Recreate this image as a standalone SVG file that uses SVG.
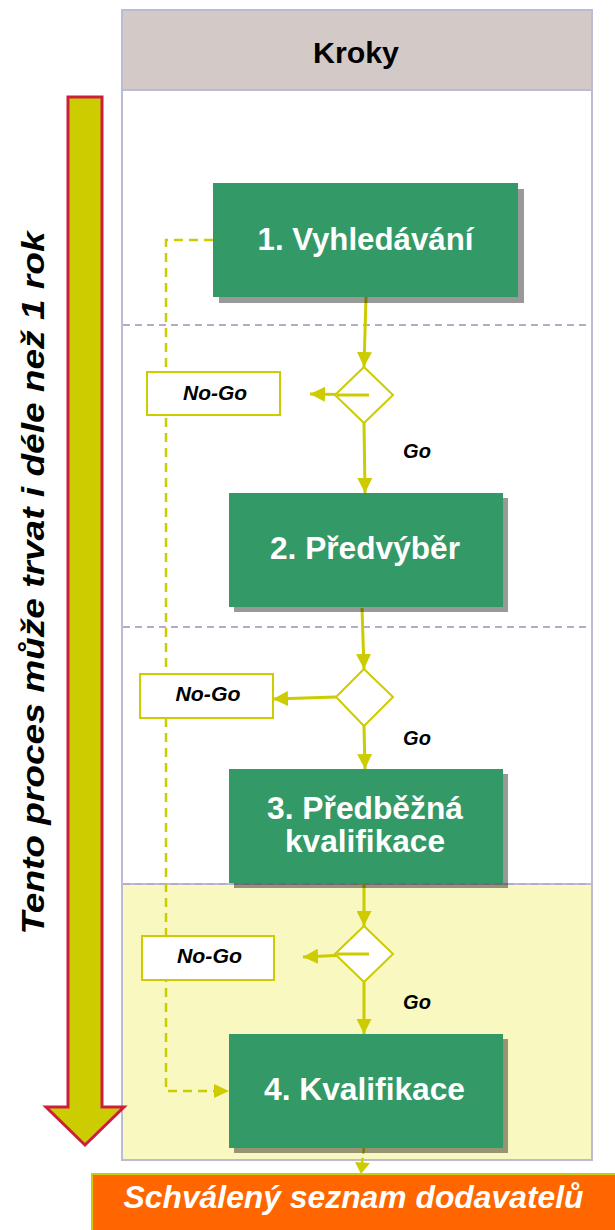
<svg xmlns="http://www.w3.org/2000/svg" width="615" height="1230" viewBox="0 0 615 1230">
<defs>
<style>
.lane{fill:#ffffff;stroke:#BBBBD3;stroke-width:2}
.sep{stroke:#B3ADC9;stroke-width:2;stroke-dasharray:7,5;fill:none}
.box{fill:#339966}
.shadow{fill:#000000;fill-opacity:0.4}
.boxtxt{font-family:"Liberation Sans",Arial,sans-serif;font-weight:bold;font-size:31px;fill:#ffffff;text-anchor:middle}
.dia{fill:#ffffff;stroke:#CCCC00;stroke-width:2}
.nogo{fill:#ffffff;stroke:#CCCC00;stroke-width:2}
.lbl{font-family:"Liberation Sans",Arial,sans-serif;font-weight:bold;font-style:italic;font-size:21px;fill:#000000;text-anchor:middle}
.go{font-family:"Liberation Sans",Arial,sans-serif;font-weight:bold;font-style:italic;font-size:20px;fill:#000000;text-anchor:middle}
.flow{stroke:#CCCC00;stroke-width:3;fill:none}
.dash{stroke:#CCCC00;stroke-width:2.5;fill:none;stroke-dasharray:9,6}
</style>
<marker id="ah" viewBox="0 0 10 10" refX="10" refY="5" markerWidth="15" markerHeight="15" markerUnits="userSpaceOnUse" orient="auto">
<path d="M0,0 L10,5 L0,10 z" fill="#CCCC00"/>
</marker>
</defs>

<g id="lane">
<rect class="lane" x="122" y="10" width="470" height="1150"/>
<rect x="122" y="884" width="470" height="276" fill="#F8F8C0" stroke="#BBBBD3" stroke-width="2"/>
<rect x="122" y="10" width="470" height="80" fill="#D3CAC8" stroke="#BBBBD3" stroke-width="2"/>
<text x="356" y="63" font-family="Liberation Sans,Arial,sans-serif" font-weight="bold" font-size="30" text-anchor="middle" fill="#000" textLength="86" lengthAdjust="spacingAndGlyphs">Kroky</text>
<line class="sep" x1="123" y1="325" x2="591" y2="325"/>
<line class="sep" x1="123" y1="627" x2="591" y2="627"/>
<line class="sep" x1="123" y1="884" x2="591" y2="884"/>
</g>

<g id="timearrow">
<path d="M68,97 L102,97 L102,1107 L124,1107 L85,1145 L46,1107 L68,1107 Z" fill="#CCCC00" stroke="#CC1F3D" stroke-width="3" stroke-linejoin="miter"/>
<text transform="translate(44,583) rotate(-90)" font-family="Liberation Sans,Arial,sans-serif" font-weight="bold" font-style="italic" font-size="32" text-anchor="middle" fill="#000" textLength="703" lengthAdjust="spacingAndGlyphs">Tento proces může trvat i déle než 1 rok</text>
</g>

<g id="connectors">
<polyline class="dash" points="213,240 166,240 166,1091 214,1091"/>
<path d="M214,1084 L229,1091 L214,1098 z" fill="#CCCC00"/>
<line class="flow" x1="366" y1="297" x2="364" y2="367" marker-end="url(#ah)"/>
<line class="flow" x1="364" y1="423" x2="365" y2="493" marker-end="url(#ah)"/>
<line class="flow" x1="368" y1="395" x2="310" y2="394" marker-end="url(#ah)"/>
<line class="flow" x1="362" y1="608" x2="364" y2="669" marker-end="url(#ah)"/>
<line class="flow" x1="364" y1="726" x2="365" y2="769" marker-end="url(#ah)"/>
<line class="flow" x1="336" y1="697" x2="273" y2="699" marker-end="url(#ah)"/>
<line class="flow" x1="364" y1="884" x2="364" y2="926" marker-end="url(#ah)"/>
<line class="flow" x1="364" y1="982" x2="364" y2="1034" marker-end="url(#ah)"/>
<line class="flow" x1="368" y1="954" x2="303" y2="957" marker-end="url(#ah)"/>
<line x1="364" y1="1148" x2="362" y2="1163" stroke="#CCCC00" stroke-width="2.5" stroke-dasharray="6,4"/>
<path d="M355,1162 L370,1163 L361,1174 z" fill="#CCCC00"/>
</g>

<g id="step1">
<rect class="shadow" x="219" y="189" width="305" height="114"/>
<rect class="box" x="213" y="183" width="305" height="114"/>
<text class="boxtxt" x="365.5" y="250" textLength="216" lengthAdjust="spacingAndGlyphs">1. Vyhledávání</text>
</g>

<g id="decision1">
<path class="dia" d="M364,367 L393,395 L364,423 L335,395 Z"/>
<line x1="337" y1="395" x2="369" y2="395" stroke="#CCCC00" stroke-width="3"/>
</g>
<g id="nogo1">
<rect class="nogo" x="147" y="372" width="133" height="43"/>
<text class="lbl" x="215" y="400" textLength="64" lengthAdjust="spacingAndGlyphs">No-Go</text>
</g>
<text class="go" x="417" y="458">Go</text>

<g id="step2">
<rect class="shadow" x="234" y="498" width="274" height="114"/>
<rect class="box" x="229" y="493" width="274" height="114"/>
<text class="boxtxt" x="365" y="559" textLength="190" lengthAdjust="spacingAndGlyphs">2. Předvýběr</text>
</g>

<g id="decision2">
<path class="dia" d="M364,669 L393,697 L364,726 L336,697 Z"/>
</g>
<g id="nogo2">
<rect class="nogo" x="140" y="674" width="133" height="44"/>
<text class="lbl" x="208" y="701" textLength="65" lengthAdjust="spacingAndGlyphs">No-Go</text>
</g>
<text class="go" x="417" y="745">Go</text>

<g id="step3">
<rect class="shadow" x="234" y="774" width="274" height="114"/>
<rect class="box" x="229" y="769" width="274" height="114"/>
<text class="boxtxt" x="365" y="819" textLength="196" lengthAdjust="spacingAndGlyphs">3. Předběžná</text>
<text class="boxtxt" x="365" y="852" textLength="160" lengthAdjust="spacingAndGlyphs">kvalifikace</text>
</g>

<g id="decision3">
<path class="dia" d="M364,926 L393,954 L364,982 L335,954 Z"/>
<line x1="337" y1="954" x2="369" y2="954" stroke="#CCCC00" stroke-width="3"/>
</g>
<g id="nogo3">
<rect class="nogo" x="142" y="936" width="132" height="44"/>
<text class="lbl" x="209.5" y="963" textLength="65" lengthAdjust="spacingAndGlyphs">No-Go</text>
</g>
<text class="go" x="417" y="1009">Go</text>

<g id="step4">
<rect class="shadow" x="234" y="1039" width="274" height="114"/>
<rect class="box" x="229" y="1034" width="274" height="114"/>
<text class="boxtxt" x="364.5" y="1100" textLength="201" lengthAdjust="spacingAndGlyphs">4. Kvalifikace</text>
</g>

<g id="result">
<rect x="92" y="1174" width="530" height="60" fill="#FF6600" stroke="#CCCC00" stroke-width="2"/>
<text x="353.5" y="1208" font-family="Liberation Sans,Arial,sans-serif" font-weight="bold" font-style="italic" font-size="31" text-anchor="middle" fill="#ffffff" textLength="460" lengthAdjust="spacingAndGlyphs">Schválený seznam dodavatelů</text>
</g>
</svg>
